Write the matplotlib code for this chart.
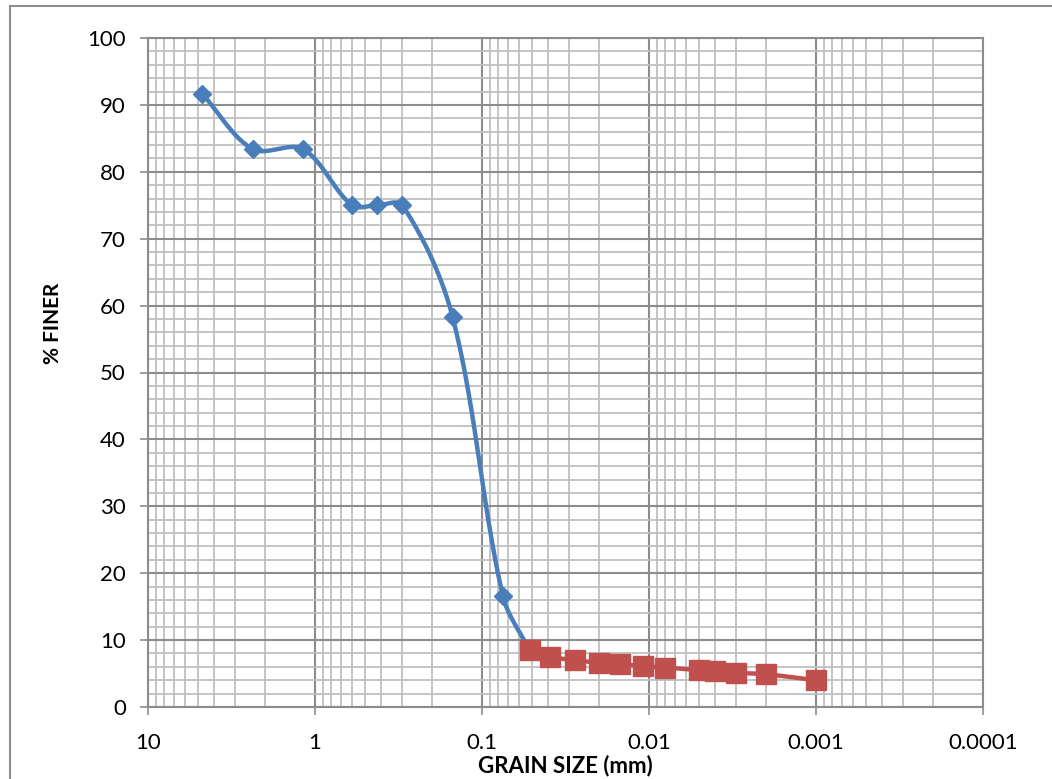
import numpy as np
import matplotlib.pyplot as plt
from matplotlib.patches import Rectangle

# Sieve analysis (blue) and hydrometer analysis (red)
sieve_size = [4.75, 2.36, 1.18, 0.6, 0.425, 0.3, 0.15, 0.075, 0.052]
sieve_finer = [91.7, 83.4, 83.4, 75.0, 75.0, 75.0, 58.3, 16.6, 8.5]

hydro_size = [0.0518, 0.0389, 0.0279, 0.0200, 0.0149, 0.0109, 0.0080,
              0.0050, 0.0040, 0.0030, 0.0020, 0.0010]
hydro_finer = [8.5, 7.5, 7.0, 6.6, 6.4, 6.1, 5.9, 5.5, 5.4, 5.1, 4.9, 4.0]

x_ticks = [10, 1, 0.1, 0.01, 0.001, 0.0001]
x_tick_labels = ["10", "1", "0.1", "0.01", "0.001", "0.0001"]

BLUE = "#4A7EBB"
RED = "#C0504D"


# Excel-like smoothed line: chord-length scaled Bezier, built in display space
def smooth(ax, xs, ys, n=40):
    pts = ax.transData.transform(np.column_stack([xs, ys]))
    P = np.vstack([pts[0], pts, pts[-1]])
    d = np.linalg.norm(np.diff(P, axis=0), axis=1)
    t = np.linspace(0, 1, n)[:, None]
    out = []
    for i in range(1, len(P) - 2):
        p0, p3 = P[i], P[i + 1]
        dp, dc, dn = d[i - 1], d[i], d[i + 1]
        c1 = p0 + (p3 - P[i - 1]) * dc / (3 * (dp + dc)) if dp + dc > 0 else p0
        c2 = p3 - (P[i + 2] - p0) * dc / (3 * (dc + dn)) if dc + dn > 0 else p3
        seg = (1 - t) ** 3 * p0 + 3 * (1 - t) ** 2 * t * c1 \
            + 3 * (1 - t) * t ** 2 * c2 + t ** 3 * p3
        out.append(seg)
    out = ax.transData.inverted().transform(np.vstack(out))
    return out[:, 0], out[:, 1]


fig = plt.figure(figsize=(10.52, 7.79), dpi=100)
ax = fig.add_axes([148 / 1052, 1 - 707 / 779, (983 - 148) / 1052, (707 - 38) / 779])

ax.set_xscale("log")
ax.set_xlim(10, 0.0001)
ax.set_ylim(0, 100)

# grid
ax.set_yticks(range(0, 101, 10))
ax.set_yticks(range(0, 101, 2), minor=True)
ax.set_xticks(x_ticks)
ax.set_xticklabels(x_tick_labels)
minor_x = [m * 10.0 ** e for e in range(-4, 1) for m in range(2, 10)]
ax.set_xticks(minor_x, minor=True)
ax.grid(which="minor", color="#BFBFBF", linewidth=1.3, zorder=0)
ax.grid(which="major", color="#8C8C8C", linewidth=1.5, zorder=0)
ax.set_axisbelow(True)

ax.tick_params(axis="both", which="minor", length=0, labelbottom=False)
ax.tick_params(axis="both", which="major", length=6, width=1.2, color="#8C8C8C",
               labelsize=16, pad=10)
ax.tick_params(axis="x", which="major", pad=13)
for lab in ax.get_xticklabels() + ax.get_yticklabels():
    lab.set_fontfamily("Lato")
for s in ax.spines.values():
    s.set_color("#8C8C8C")
    s.set_linewidth(1.5)

# series
bx, by = smooth(ax, sieve_size, sieve_finer)
ax.plot(bx, by, color=BLUE, linewidth=3.2, zorder=3, solid_capstyle="round")
ax.plot(sieve_size[:-1], sieve_finer[:-1], linestyle="none", marker="D",
        markersize=9.5, color=BLUE, zorder=4)

rx, ry = smooth(ax, hydro_size, hydro_finer)
ax.plot(rx, ry, color=RED, linewidth=3.2, zorder=5)
ax.plot(hydro_size, hydro_finer, linestyle="none", marker="s",
        markersize=14, color=RED, zorder=6)

fig.text(53 / 1052, 1 - 323 / 779, "% FINER", rotation=90, ha="center", va="center",
         fontsize=15, fontweight="bold", family="Lato")
fig.text(565 / 1052, 1 - 766 / 779, "GRAIN SIZE (mm)", ha="center", va="center",
         fontsize=16, fontweight="bold", family="Lato")

# outer chart frame
fig.add_artist(Rectangle((10 / 1052, -0.1), 1.2, 1 - 6 / 779 + 0.1,
                         transform=fig.transFigure, fill=False,
                         edgecolor="#8C8C8C", linewidth=1.5))

fig.savefig("out.png", dpi=100)
